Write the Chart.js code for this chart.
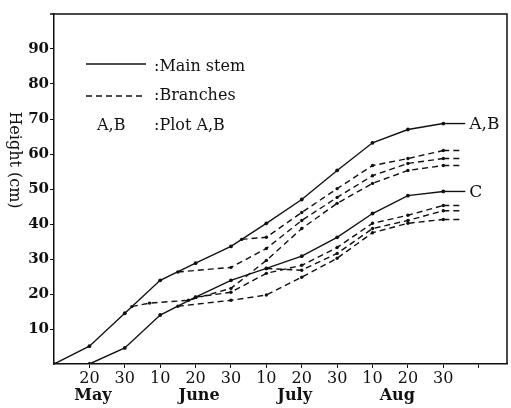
<!DOCTYPE html>
<html>
<head>
<meta charset="utf-8">
<script src="https://cdn.jsdelivr.net/npm/chart.js@4.4.1/dist/chart.umd.min.js"></script>
<style>
  body { margin: 0; background: #fff; }
  #graf { display: block; }
</style>
</head>
<body>
<canvas id="graf" width="511" height="408"></canvas>
<script>
// days counted from 10 May, one unit = one day (10-day marks on the axis)
const tickDays = [10, 20, 30, 40, 50, 60, 70, 80, 90, 100, 110, 120];
const tickLabels = ["20", "30", "10", "20", "30", "10", "20", "30", "10", "20", "30", ""];
const months = ["May", "June", "July", "Aug"];
const monthMid = [11, 41, 68, 97];
const heightTicks = [10, 20, 30, 40, 50, 60, 70, 80, 90];

// main stem, plot A,B
const stemABDays = [0, 10, 20, 30, 40, 50, 60, 70, 80, 90, 100, 110];
const stemABHeight = [0, 5.1, 14.5, 23.9, 28.8, 33.6, 40.2, 47, 55.3, 63.2, 67, 68.7];

// main stem, plot C
const stemCDays = [10, 20, 30, 40, 50, 60, 70, 80, 90, 100, 110];
const stemCHeight = [0, 4.6, 14, 19.1, 23.9, 27.3, 30.8, 36.2, 43, 48.1, 49.3];

// branches, plot A,B
const brAB1Days = [53, 60, 70, 80, 90, 100, 110];
const brAB1Height = [35.6, 36.2, 43.3, 50.1, 56.7, 58.7, 61];
const brAB2Days = [35, 50, 60, 70, 80, 90, 100, 110];
const brAB2Height = [26.3, 27.6, 33, 41, 47.6, 53.8, 57.3, 58.7];
const brAB3Days = [22, 27, 38, 50, 60, 70, 80, 90, 100, 110];
const brAB3Height = [16.4, 17.4, 18.2, 21.6, 29.6, 38.7, 45.9, 51.6, 55.3, 56.7];

// branches, plot C
const brC1Days = [40, 50, 60, 70, 80, 90, 100, 110];
const brC1Height = [19.1, 20.5, 25.9, 28.2, 33.3, 40.2, 42.5, 45.3];
const brC2Days = [60, 70, 80, 90, 100, 110];
const brC2Height = [27.3, 26.8, 31.6, 38.7, 41, 43.8];
const brC3Days = [35, 50, 60, 70, 80, 90, 100, 110];
const brC3Height = [16.5, 18.2, 19.7, 24.8, 30.2, 37.5, 40.2, 41.3];

const SERIF = "'DejaVu Serif', 'Liberation Serif', serif";

function pontos(dias, alturas){
    return dias.map((d, i) => ({ x: d, y: alturas[i] }));
}

function serie(nome, dias, alturas, tracejado, rotulo){
    return {
        label: nome,
        data: pontos(dias, alturas),
        borderColor: "#111",
        backgroundColor: "#111",
        borderWidth: 1.4,
        borderDash: tracejado ? [6, 4] : [],
        pointRadius: tracejado ? 1.7 : 1.9,
        pointBorderWidth: 0,
        tension: 0,
        fimRotulo: rotulo,
        fimTraco: tracejado ? 18 : 22
    };
}

// ===========================
// PLUGIN: frame, leaders, legend, texts
// ===========================

const extras = {
    id: "extras",
    afterDatasetsDraw(chart){
        const ctx = chart.ctx;
        ctx.save();
        ctx.strokeStyle = "#111";
        ctx.lineWidth = 1.4;
        chart.data.datasets.forEach((ds, i) => {
            const pts = chart.getDatasetMeta(i).data;
            const ult = pts[pts.length - 1];
            ctx.setLineDash(ds.borderDash);
            ctx.beginPath();
            ctx.moveTo(ult.x, ult.y);
            ctx.lineTo(ult.x + ds.fimTraco, ult.y);
            ctx.stroke();
            if (ds.fimRotulo){
                ctx.setLineDash([]);
                ctx.fillStyle = "#111";
                ctx.font = "17px " + SERIF;
                ctx.textBaseline = "middle";
                ctx.textAlign = "left";
                ctx.fillText(ds.fimRotulo, ult.x + ds.fimTraco + 4, ult.y + 1);
            }
        });
        ctx.restore();
    },
    afterDraw(chart){
        const ctx = chart.ctx;
        const a = chart.chartArea;
        ctx.save();
        ctx.strokeStyle = "#111";
        ctx.lineWidth = 1.5;
        ctx.beginPath();
        ctx.moveTo(a.left - 4, a.top);
        ctx.lineTo(a.right, a.top);
        ctx.lineTo(a.right, a.bottom);
        ctx.stroke();

        // legend
        ctx.lineWidth = 1.4;
        ctx.beginPath();
        ctx.moveTo(86, 64); ctx.lineTo(146, 64);
        ctx.stroke();
        ctx.setLineDash([6, 4]);
        ctx.beginPath();
        ctx.moveTo(86, 96); ctx.lineTo(146, 96);
        ctx.stroke();
        ctx.setLineDash([]);
        ctx.fillStyle = "#111";
        ctx.font = "16px " + SERIF;
        ctx.textBaseline = "alphabetic";
        ctx.textAlign = "left";
        ctx.fillText(":Main stem", 154, 71);
        ctx.fillText(":Branches", 154, 100);
        ctx.fillText(":Plot A,B", 154, 130);
        ctx.fillText("A,B", 97, 130);

        // y title, reading downwards
        ctx.save();
        ctx.translate(14, 160);
        ctx.rotate(Math.PI / 2);
        ctx.textAlign = "center";
        ctx.textBaseline = "middle";
        ctx.font = "16px " + SERIF;
        ctx.fillText("Height (cm)", 0, 0);
        ctx.restore();

        // month names under the day ticks
        const xs = chart.scales.x;
        ctx.font = "bold 16px " + SERIF;
        ctx.textAlign = "center";
        ctx.textBaseline = "alphabetic";
        months.forEach((m, i) => {
            ctx.fillText(m, xs.getPixelForValue(monthMid[i]), 400);
        });
        ctx.restore();
    }
};

new Chart(
    document.getElementById("graf"),
    {
        type: "line",
        data: {
            datasets: [
                serie("Main stem A,B", stemABDays, stemABHeight, false, "A,B"),
                serie("Main stem C", stemCDays, stemCHeight, false, "C"),
                serie("Branch A,B 1", brAB1Days, brAB1Height, true),
                serie("Branch A,B 2", brAB2Days, brAB2Height, true),
                serie("Branch A,B 3", brAB3Days, brAB3Height, true),
                serie("Branch C 1", brC1Days, brC1Height, true),
                serie("Branch C 2", brC2Days, brC2Height, true),
                serie("Branch C 3", brC3Days, brC3Height, true)
            ]
        },
        options: {
            responsive: false,
            animation: false,
            layout: { padding: { top: 14, right: 3 } },
            plugins: {
                legend: { display: false },
                tooltip: { enabled: false }
            },
            scales: {
                x: {
                    type: "linear",
                    min: 0,
                    max: 128,
                    afterBuildTicks: s => { s.ticks = tickDays.map(v => ({ value: v })); },
                    afterFit: s => { s.height = 44; },
                    ticks: {
                        autoSkip: false,
                        maxRotation: 0,
                        padding: 1,
                        color: "#111",
                        font: { family: SERIF, size: 16 },
                        callback: (v) => tickLabels[tickDays.indexOf(v)] ?? ""
                    },
                    grid: { drawOnChartArea: false, tickLength: 4, color: "#111" },
                    border: { color: "#111", width: 1.5 }
                },
                y: {
                    min: 0,
                    max: 100,
                    afterBuildTicks: s => { s.ticks = heightTicks.map(v => ({ value: v })); },
                    afterFit: s => { s.width = 54; },
                    ticks: {
                        padding: 1,
                        color: "#111",
                        font: { family: SERIF, size: 15, weight: "bold" }
                    },
                    grid: { drawOnChartArea: false, tickLength: 4, color: "#111" },
                    border: { color: "#111", width: 1.5 }
                }
            }
        },
        plugins: [extras]
    }
);
</script>
</body>
</html>
